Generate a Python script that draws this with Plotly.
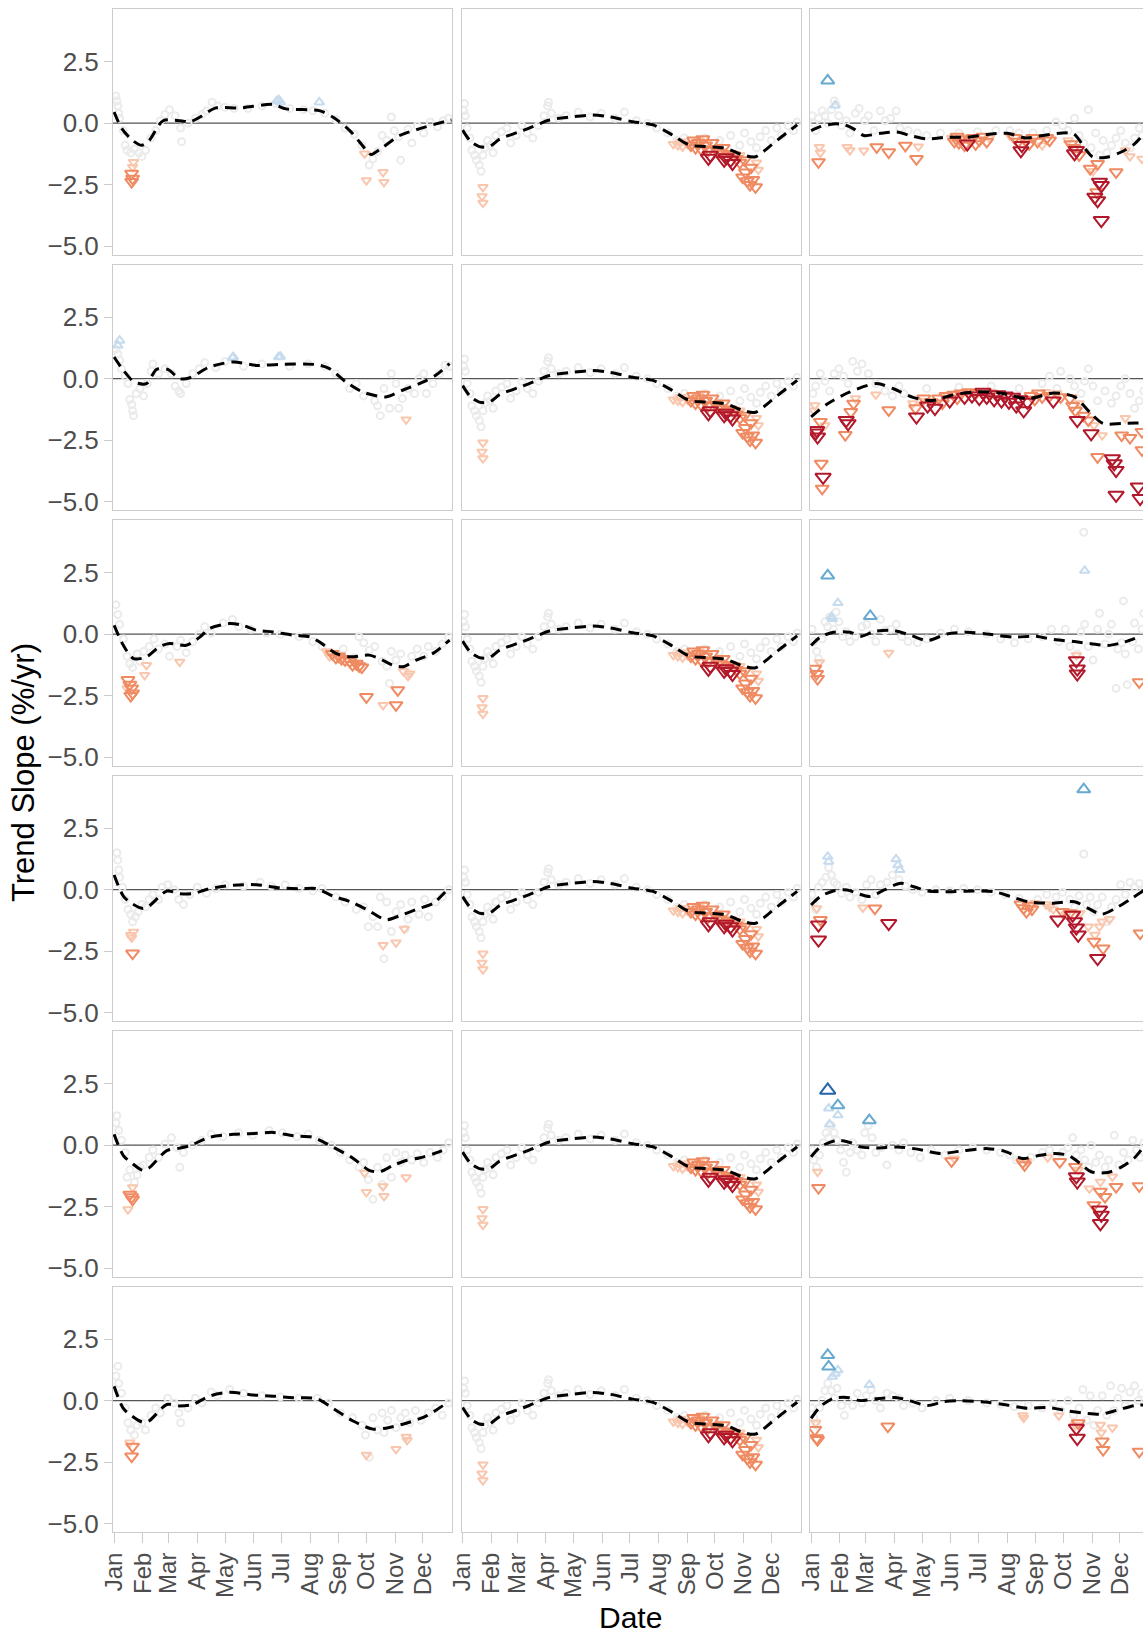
import plotly.graph_objects as go

# ---------------- axis / category data ----------------
MONTHS = ["Jan", "Feb", "Mar", "Apr", "May", "Jun", "Jul", "Aug", "Sep", "Oct", "Nov", "Dec"]
MONTH_START = [0, 31, 59, 90, 120, 151, 181, 212, 243, 273, 304, 334]
Y_TICKS = [-5.0, -2.5, 0.0, 2.5]
Y_TICK_TEXT = ["\u22125.0", "\u22122.5", "0.0", "2.5"]

# Each panel: dashed trend line (day, slope), grey non-significant points (day, slope),
# significant points (day, slope, level 1=weak 2=moderate 3=strong)

# ---- column 1 ----
r1c1_line = [(0,0.45),(8,-0.2),(20,-0.7),(30,-0.9),(38,-0.7),(53,0.1),(75,0.08),(82,0.05),(93,0.25),(110,0.62),(136,0.62),(172,0.76),(186,0.58),(222,0.51),(237,0.24),(255,-0.3),(273,-1.1),(278,-1.27),(291,-0.97),(309,-0.5),(330,-0.23),(359,0.08),(365,0.13)]
r1c1_gray = [(2,1.1),(3,0.9),(4,0.7),(5,0.4),(6,0.2),(10,-0.3),(12,-0.9),(14,-1.1),(18,-1.2),(22,-1.05),(27,-1.2),(30,-1.35),(34,-1.1),(40,-0.6),(45,-0.3),(50,0.1),(55,0.35),(60,0.55),(66,0.3),(72,-0.2),(73,-0.75),(80,0.0),(88,0.2),(95,0.35),(100,0.5),(106,0.85),(112,0.7),(120,0.65),(130,0.6),(145,0.6),(160,0.7),(175,0.8),(190,0.6),(205,0.55),(215,0.5),(228,0.4),(240,0.15),(250,-0.2),(260,-0.45),(268,-0.9),(276,-1.7),(280,-1.45),(285,-1.15),(290,-0.5),(295,-0.7),(300,0.25),(303,-0.3),(308,-0.55),(310,-1.5),(318,-0.25),(322,-0.8),(328,-0.1),(335,-0.4),(342,0.05),(350,-0.15),(356,0.1),(362,0.2)]
r1c1_tri = [(176,0.9,1),(178,0.95,1),(180,0.85,1),(222,0.85,1),(19,-2.05,2),(20,-2.25,2),(19,-2.38,2),(21,-1.58,1),(20,-1.78,1),(271,-1.24,1),(273,-2.32,1),(291,-1.99,1),(292,-2.39,1)]

r2c1_line = [(0,0.88),(10,0.34),(22,-0.14),(35,-0.2),(46,0.38),(58,0.38),(71,0.0),(82,0.04),(103,0.47),(129,0.68),(154,0.54),(179,0.58),(219,0.57),(233,0.41),(251,-0.14),(269,-0.54),(294,-0.74),(312,-0.47),(334,-0.14),(348,0.14),(363,0.61)]
r2c1_gray = [(2,1.2),(4,1.0),(6,0.75),(8,0.4),(12,0.1),(15,-0.2),(17,-0.85),(19,-1.05),(20,-1.3),(21,-1.5),(24,-0.6),(28,-0.4),(32,-0.7),(36,-0.2),(40,0.3),(42,0.6),(48,0.2),(55,0.4),(62,0.2),(66,-0.3),(70,-0.5),(72,-0.6),(78,-0.2),(85,0.2),(92,0.4),(98,0.65),(110,0.45),(120,0.7),(140,0.5),(160,0.6),(190,0.5),(210,0.6),(228,0.5),(240,0.2),(255,-0.4),(262,-0.2),(270,-0.7),(282,-0.9),(285,-1.1),(288,-1.5),(292,-0.4),(298,-1.2),(300,0.2),(305,-0.2),(308,-1.2),(312,-0.8),(318,-0.4),(325,-0.6),(330,0.0),(335,0.2),(338,-0.6),(345,-0.2),(352,0.2),(358,0.55),(363,0.5)]
r2c1_tri = [(6,1.55,1),(4,1.35,1),(129,0.88,1),(128,0.85,1),(178,0.88,1),(180,0.9,1),(316,-1.66,1)]

r3c1_line = [(0,0.36),(10,-0.45),(21,-0.99),(35,-0.92),(49,-0.51),(60,-0.38),(78,-0.45),(93,-0.11),(103,0.23),(125,0.43),(139,0.36),(154,0.16),(172,0.09),(194,-0.04),(212,-0.11),(222,-0.31),(240,-0.78),(255,-0.92),(276,-0.85),(287,-0.99),(302,-1.26),(313,-1.32),(327,-1.05),(345,-0.78),(363,-0.24)]
r3c1_gray = [(2,1.2),(4,0.8),(6,0.4),(10,-0.2),(14,-0.9),(17,-1.2),(20,-1.35),(25,-0.8),(28,-1.1),(32,-0.7),(38,-0.5),(43,-0.2),(48,-0.6),(55,-0.4),(60,-0.9),(68,-0.5),(72,-0.25),(78,-0.75),(85,-0.3),(92,0.0),(98,0.3),(105,0.05),(118,0.45),(128,0.6),(135,0.3),(148,0.2),(165,0.05),(180,0.0),(200,-0.1),(215,-0.3),(225,-0.5),(235,-0.75),(248,-0.6),(260,-0.95),(265,-0.1),(270,-0.35),(276,-0.65),(282,-0.5),(290,-1.1),(295,-1.3),(298,-2.0),(300,-0.7),(305,-1.05),(310,-0.8),(318,-1.6),(322,-0.9),(328,-0.6),(335,-0.9),(340,-0.5),(348,-0.7),(355,-0.4),(362,-0.1)]
r3c1_tri = [(15,-1.86,2),(17,-2.05,2),(19,-2.2,2),(20,-2.4,2),(18,-2.5,2),(236,-0.8,2),(240,-0.95,2),(243,-0.9,2),(246,-1.0,2),(250,-1.05,2),(255,-1.1,2),(258,-1.25,2),(262,-1.2,2),(265,-1.3,2),(268,-1.35,2),(273,-2.55,2),(307,-2.27,2),(305,-2.88,2),(14,-2.2,1),(33,-1.66,1),(35,-1.26,1),(71,-1.12,1),(230,-0.7,1),(233,-0.9,1),(291,-2.88,1),(313,-1.5,1),(318,-1.7,1),(320,-1.6,1)]

r4c1_line = [(0,0.6),(10,-0.26),(19,-0.56),(31,-0.76),(38,-0.66),(57,-0.06),(71,-0.16),(85,-0.16),(103,0.04),(129,0.18),(154,0.2),(179,0.08),(201,0.04),(219,0.04),(237,-0.26),(258,-0.52),(276,-0.86),(294,-1.22),(309,-1.06),(327,-0.8),(345,-0.56),(359,-0.06)]
r4c1_gray = [(3,1.5),(4,1.2),(5,0.8),(6,0.5),(9,0.1),(12,-0.4),(15,-0.8),(18,-1.0),(20,-1.3),(23,-1.1),(26,-0.9),(30,-0.6),(34,-0.7),(38,-0.4),(42,-0.2),(48,-0.4),(52,0.1),(58,0.2),(65,0.0),(70,-0.4),(75,-0.6),(82,-0.2),(90,0.1),(100,-0.15),(110,0.05),(120,0.2),(140,0.15),(158,0.3),(170,0.15),(185,0.2),(200,0.05),(215,-0.05),(225,0.05),(240,-0.3),(250,-0.5),(262,-0.8),(270,-0.7),(275,-1.5),(280,-1.1),(285,-1.5),(288,-0.3),(292,-2.8),(295,-0.5),(300,-1.7),(305,-0.9),(310,-0.6),(315,-1.6),(318,-1.2),(322,-0.5),(330,-1.0),(336,-0.4),(340,-1.1),(348,-0.5),(355,-0.3),(362,0.0)]
r4c1_tri = [(20,-2.59,2),(19,-1.95,1),(21,-1.71,1),(18,-1.85,1),(291,-2.25,1),(305,-2.15,1),(314,-1.59,1)]

r5c1_line = [(0,0.44),(10,-0.42),(19,-0.72),(31,-1.02),(38,-0.92),(57,-0.22),(71,-0.12),(82,-0.02),(103,0.32),(129,0.44),(154,0.48),(172,0.52),(194,0.38),(215,0.32),(237,-0.08),(258,-0.52),(276,-1.02),(287,-1.08),(302,-0.82),(316,-0.62),(330,-0.52),(345,-0.36),(359,-0.16)]
r5c1_gray = [(2,0.9),(3,1.2),(5,0.6),(8,0.2),(12,-0.3),(14,-1.3),(17,-1.0),(22,-1.5),(25,-1.2),(28,-0.9),(32,-0.8),(38,-0.5),(42,-0.2),(48,-0.5),(55,0.05),(62,0.3),(68,-0.1),(71,-0.9),(75,-0.3),(85,0.0),(95,0.2),(105,0.45),(118,0.35),(135,0.5),(150,0.4),(168,0.6),(182,0.5),(198,0.35),(210,0.45),(222,0.2),(235,0.0),(245,-0.3),(255,-0.6),(265,-0.9),(270,-0.7),(275,-1.4),(280,-2.2),(285,-0.9),(290,-1.6),(295,-0.5),(300,-1.3),(305,-0.3),(310,-0.7),(315,-0.4),(322,-0.6),(328,-0.35),(335,-0.7),(342,-0.3),(350,-0.5),(356,-0.2),(362,0.1)]
r5c1_tri = [(17,-2.01,2),(19,-2.11,2),(20,-2.21,2),(15,-2.61,1),(20,-1.71,1),(271,-1.12,1),(273,-1.91,1),(291,-1.67,1),(292,-2.07,1),(316,-1.31,1)]

r6c1_line = [(0,0.58),(10,-0.32),(19,-0.62),(31,-0.88),(38,-0.82),(57,-0.16),(71,-0.22),(85,-0.16),(103,0.18),(125,0.34),(147,0.24),(172,0.18),(194,0.12),(219,0.08),(237,-0.32),(258,-0.82),(280,-1.16),(294,-1.12),(316,-0.92),(338,-0.62),(359,-0.12)]
r6c1_gray = [(2,1.0),(4,1.4),(5,0.7),(8,0.3),(12,-0.3),(15,-0.9),(18,-1.2),(22,-1.4),(25,-1.0),(30,-0.9),(34,-1.2),(40,-0.6),(45,-0.3),(50,-0.5),(58,0.1),(65,-0.1),(70,-0.5),(72,-0.9),(80,-0.3),(88,0.1),(95,-0.1),(105,0.35),(112,0.2),(125,0.45),(140,0.3),(160,0.2),(180,0.15),(200,0.1),(220,0.1),(232,-0.1),(245,-0.5),(258,-0.7),(268,-1.0),(272,-1.4),(276,-2.3),(280,-0.7),(285,-1.2),(290,-0.5),(292,-1.3),(296,-0.8),(300,-0.4),(305,-1.1),(310,-0.7),(315,-0.5),(320,-0.9),(326,-0.4),(332,-0.8),(340,-0.5),(348,-0.3),(355,-0.6),(362,-0.1)]
r6c1_tri = [(20,-1.87,2),(19,-2.27,2),(17,-1.71,1),(273,-2.21,1),(305,-1.97,1),(317,-1.61,1),(316,-1.47,1)]

# ---- column 2 (same in every row) ----
c2_line = [(0,-0.28),(9,-0.75),(18,-0.95),(29,-0.95),(40,-0.65),(62,-0.34),(72,-0.2),(94,0.13),(119,0.26),(141,0.33),(159,0.26),(184,0.06),(206,-0.07),(227,-0.48),(245,-0.88),(263,-0.95),(285,-1.02),(303,-1.29),(317,-1.36),(332,-0.95),(350,-0.41),(362,-0.07)]
c2_gray = [(1,0.5),(2,0.8),(3,0.3),(5,-0.2),(8,-0.6),(10,-1.1),(13,-1.3),(15,-1.5),(18,-1.7),(20,-1.95),(22,-1.3),(24,-1.0),(27,-0.7),(30,-0.9),(33,-1.2),(36,-0.5),(42,-0.35),(48,-0.2),(52,-0.8),(58,-0.5),(64,-0.1),(70,-0.4),(76,-0.6),(82,-0.1),(88,0.3),(92,0.7),(93,0.85),(96,0.4),(104,0.2),(112,0.3),(125,0.45),(138,0.25),(150,0.4),(165,0.2),(175,0.45),(188,0.1),(200,0.0),(210,-0.2),(222,-0.4),(232,-0.7),(240,-0.6),(262,-0.6),(278,-0.7),(290,-0.5),(300,-0.9),(305,-0.4),(312,-0.75),(318,-1.0),(322,-0.55),(328,-0.3),(334,-0.7),(340,-0.2),(345,-0.5),(352,-0.1),(358,-0.3),(362,0.05)]
c2_tri = [(22,-2.6,1),(21,-2.97,1),(22,-3.24,1),(228,-0.85,1),(233,-0.9,1),(238,-0.95,1),(243,-0.85,1),(236,-0.75,1),(256,-0.7,1),(300,-1.3,1),(318,-1.6,1),(320,-1.9,1),
          (247,-0.9,2),(250,-0.7,2),(252,-1.0,2),(255,-0.8,2),(258,-1.05,2),(260,-0.65,2),(263,-0.9,2),(266,-1.1,2),(270,-0.8,2),(274,-1.05,2),(278,-1.2,2),(282,-1.0,2),(285,-1.35,2),(289,-1.25,2),(293,-1.3,2),(296,-1.45,2),(300,-1.6,2),(303,-2.2,2),(306,-2.0,2),(308,-2.35,2),(311,-2.5,2),(314,-2.3,2),(317,-2.6,2),(312,-1.8,2),(305,-1.5,2),
          (266,-1.42,3),(268,-1.3,3),(283,-1.5,3),(285,-1.4,3),(292,-1.63,3),(290,-1.5,3)]

# ---- column 3 ----
r1c3_line = [(0,-0.3),(10,-0.14),(24,-0.03),(35,-0.05),(46,-0.23),(57,-0.5),(75,-0.41),(93,-0.36),(107,-0.5),(125,-0.64),(147,-0.57),(169,-0.57),(190,-0.46),(212,-0.41),(233,-0.6),(251,-0.5),(269,-0.41),(284,-0.43),(298,-1.11),(305,-1.38),(320,-1.38),(335,-1.18),(350,-0.84),(360,-0.43)]
r1c3_gray = [(1,0.3),(3,0.0),(5,-0.3),(8,0.2),(12,0.5),(15,0.3),(18,0.0),(22,0.55),(25,0.9),(27,0.75),(30,0.3),(33,-0.1),(38,0.1),(42,-0.4),(48,0.4),(52,0.6),(58,0.1),(62,0.3),(68,-0.3),(75,0.5),(80,0.1),(86,0.2),(92,0.5),(96,-0.2),(105,-0.3),(115,-0.4),(125,-0.5),(140,-0.4),(160,-0.4),(180,-0.35),(200,-0.3),(215,-0.3),(225,-0.4),(240,-0.4),(255,-0.3),(265,0.05),(272,-0.1),(278,-0.3),(285,0.2),(290,-0.5),(295,-0.8),(300,0.55),(303,-1.0),(308,-0.4),(312,-1.3),(316,-0.7),(320,-1.2),(325,-0.9),(330,-0.6),(335,-0.3),(340,-0.8),(345,-1.0),(350,-0.6),(355,-0.2),(358,-0.5)]
r1c3_tri = [(18,1.73,2),(26,0.72,1),(8,-1.58,2),(9,-0.97,1),(10,-1.2,1),(39,-0.97,1),(42,-1.1,1),(57,-1.11,1),(71,-0.97,2),(84,-1.18,2),(102,-0.91,2),(114,-1.45,2),(116,-0.95,1),
            (152,-0.6,1),(155,-0.75,2),(158,-0.55,2),(160,-0.8,2),(163,-0.65,2),(166,-0.9,2),(169,-0.84,3),(172,-0.7,2),(175,-0.6,2),(178,-0.85,2),(182,-0.7,2),(186,-0.55,2),(190,-0.75,2),(193,-0.6,1),
            (215,-0.5,1),(220,-0.6,2),(224,-0.75,2),(227,-1.11,3),(228,-0.9,3),(232,-0.7,2),(236,-0.85,2),(240,-0.6,2),(245,-0.75,2),(250,-0.9,1),(255,-0.6,2),(258,-0.7,2),
            (278,-0.7,1),(281,-0.85,2),(284,-1.0,2),(285,-1.24,3),(287,-1.1,3),(290,-1.3,2),
            (302,-1.85,2),(305,-1.95,1),(310,-1.65,2),(330,-1.99,2),(312,-2.39,3),(314,-2.53,3),(307,-3.0,3),(310,-3.14,3),(314,-3.95,3),(309,-2.8,2),(358,-1.45,1),(340,-1.1,1),(345,-1.35,1)]

r2c3_line = [(0,-1.55),(17,-1.04),(42,-0.54),(71,-0.2),(89,-0.41),(111,-0.77),(133,-0.88),(151,-0.68),(176,-0.54),(205,-0.58),(234,-0.81),(263,-0.58),(285,-0.74),(303,-1.42),(316,-1.82),(336,-1.82),(351,-1.8),(362,-1.78)]
r2c3_gray = [(2,-0.6),(5,-0.3),(10,0.2),(15,-0.1),(20,-0.5),(25,0.2),(30,0.4),(35,0.1),(40,-0.2),(45,0.7),(50,0.3),(55,0.6),(62,0.2),(70,-0.2),(80,-0.5),(88,-0.7),(95,-0.3),(100,-0.6),(125,-0.4),(160,-0.35),(195,-0.3),(225,-0.4),(250,-0.2),(258,0.1),(266,-0.4),(270,0.3),(280,0.0),(285,-0.3),(292,-0.6),(296,-0.1),(300,0.4),(305,-0.3),(310,-0.9),(318,-0.5),(325,-1.0),(330,-0.7),(335,-0.3),(340,0.0),(345,-0.6),(350,-1.2),(355,-0.9),(360,-0.5)]
r2c3_tri = [(4,-1.08,1),(3,-1.3,1),(6,-2.1,3),(7,-2.36,3),(5,-2.2,3),(11,-3.45,2),(13,-4.0,3),(12,-4.46,2),(10,-1.75,2),(15,-1.9,1),
            (38,-1.69,3),(40,-1.82,3),(46,-1.01,2),(43,-1.35,2),(37,-2.28,2),(48,-0.8,1),
            (70,-0.65,1),(84,-1.28,2),(110,-1.0,1),(114,-1.55,3),(113,-1.2,2),(118,-0.9,1),
            (122,-0.8,2),(126,-1.1,3),(130,-0.95,2),(134,-1.2,3),(138,-0.8,2),(142,-1.0,2),(146,-0.7,2),(150,-0.9,3),(154,-0.65,2),(158,-0.8,2),(162,-0.6,2),(166,-0.75,3),(170,-0.55,2),(174,-0.7,3),(178,-0.6,2),(182,-0.8,3),(186,-0.55,3),(190,-0.75,3),(194,-0.6,2),(198,-0.85,3),(202,-0.65,3),(206,-0.9,3),(210,-0.7,3),(214,-0.95,3),(218,-0.75,3),(222,-1.1,3),(226,-0.85,3),(230,-1.3,3),(234,-0.95,3),(238,-0.7,2),(242,-0.85,2),(246,-0.6,2),(250,-0.75,2),(254,-0.55,1),(258,-0.7,2),(262,-0.9,3),(266,-0.6,1),(270,-0.75,2),
            (280,-0.8,2),(283,-1.1,2),(286,-1.3,2),(288,-1.69,3),(290,-1.0,1),(295,-1.5,2),(300,-1.69,2),(303,-2.23,3),(306,-1.9,1),(310,-3.18,2),(315,-2.3,1),(326,-3.25,3),(330,-3.72,3),(328,-3.45,3),(330,-4.73,3),(336,-2.3,2),(345,-2.4,2),(354,-4.39,3),(356,-4.86,3),(358,-2.9,2),(358,-2.16,2),(340,-1.6,1)]

r3c3_line = [(0,-0.46),(10,-0.12),(24,0.08),(42,0.08),(55,-0.08),(68,0.11),(89,0.15),(108,-0.05),(126,-0.26),(147,0.01),(169,0.08),(190,0.01),(220,-0.12),(242,-0.08),(263,-0.22),(285,-0.3),(303,-0.39),(321,-0.46),(339,-0.32),(357,-0.08)]
r3c3_gray = [(1,0.2),(3,-0.3),(6,-0.7),(8,-1.0),(12,-0.2),(15,0.5),(18,0.3),(20,0.7),(24,0.2),(27,0.9),(30,0.5),(34,-0.1),(38,0.1),(42,-0.3),(48,-0.1),(55,0.3),(60,0.4),(65,0.0),(70,-0.3),(75,0.6),(80,0.15),(86,0.2),(92,0.4),(98,-0.1),(105,-0.3),(115,-0.35),(125,-0.2),(140,0.05),(155,0.2),(170,0.1),(190,0.0),(205,-0.2),(220,-0.35),(235,-0.2),(250,-0.1),(260,0.2),(268,-0.3),(275,0.2),(280,-0.5),(288,-0.8),(292,0.1),(295,4.14),(296,0.4),(300,-0.5),(305,-1.05),(310,0.2),(312,0.85),(318,-0.4),(322,0.0),(325,0.4),(330,-2.2),(332,-0.6),(336,-0.35),(338,1.35),(340,-0.8),(342,-2.05),(348,-0.3),(350,0.45),(354,-0.6),(358,0.2),(360,0.85)]
r3c3_tri = [(18,2.38,2),(64,0.73,2),(29,1.27,1),(23,0.62,1),(22,0.7,1),(296,2.58,1),(4,-1.4,2),(6,-1.61,2),(7,-1.81,2),(9,-1.14,1),(84,-0.76,1),(287,-0.86,1),(287,-1.07,3),(288,-1.41,3),(288,-1.61,3),(355,-1.95,2)]

r4c3_line = [(0,-0.62),(10,-0.28),(24,-0.05),(39,-0.01),(50,-0.15),(64,-0.28),(79,-0.01),(97,0.26),(111,0.12),(126,-0.05),(147,-0.08),(176,-0.05),(198,-0.08),(216,-0.28),(235,-0.49),(260,-0.55),(285,-0.49),(300,-0.76),(314,-1.0),(329,-0.76),(347,-0.35),(361,-0.01)]
r4c3_gray = [(1,-0.2),(3,-0.5),(5,-0.8),(8,0.1),(12,0.3),(16,0.5),(19,0.9),(22,0.6),(25,0.3),(28,0.2),(33,-0.15),(38,0.1),(42,-0.3),(48,-0.1),(55,-0.4),(60,0.2),(65,0.4),(70,-0.2),(75,0.2),(82,0.3),(88,0.6),(95,0.4),(102,0.15),(110,0.0),(120,-0.1),(135,0.0),(150,-0.05),(165,0.05),(180,0.0),(195,-0.1),(210,-0.2),(225,-0.35),(245,-0.4),(255,-0.2),(265,-0.3),(272,-0.1),(280,-0.4),(285,-0.7),(290,-0.25),(295,1.45),(298,-0.6),(302,-0.3),(306,-0.9),(310,-0.6),(315,-0.3),(320,-1.3),(325,-0.7),(330,-0.4),(335,0.2),(340,-0.2),(345,0.3),(350,0.1),(355,0.25),(360,0.0)]
r4c3_tri = [(295,4.07,2),(18,1.34,1),(19,1.14,1),(92,1.24,1),(94,1.0,1),(96,0.8,1),
            (8,-1.43,3),(8,-2.04,3),(10,-1.23,2),(6,-0.76,1),(56,-0.73,1),(69,-0.76,2),(84,-1.37,3),
            (227,-0.6,2),(230,-0.75,2),(233,-0.9,2),(236,-0.65,2),(239,-0.8,2),(242,-0.55,1),
            (254,-0.6,1),(258,-0.7,1),(262,-0.8,1),(267,-1.23,3),(272,-0.9,2),(276,-1.0,1),(280,-0.95,2),(283,-1.03,3),(285,-1.3,3),(287,-1.55,3),(289,-1.84,3),(291,-0.95,1),
            (307,-1.84,1),(312,-1.5,1),(315,-1.3,1),(323,-1.2,1),(306,-2.11,2),(316,-2.38,2),(310,-2.79,3),(356,-1.77,2),(300,-1.5,1)]

r5c3_line = [(0,-0.47),(10,-0.07),(28,0.2),(42,0.11),(53,-0.07),(71,-0.11),(93,-0.07),(115,-0.16),(140,-0.34),(162,-0.24),(191,-0.14),(209,-0.24),(229,-0.54),(245,-0.43),(263,-0.34),(278,-0.41),(289,-0.68),(303,-1.08),(321,-1.11),(336,-0.88),(350,-0.51),(357,-0.2)]
r5c3_gray = [(1,-0.2),(3,-0.6),(6,-0.9),(9,-0.4),(13,0.1),(16,0.5),(19,0.3),(22,0.8),(25,0.5),(28,0.2),(32,-0.2),(35,-0.7),(38,-1.1),(42,-0.3),(45,0.1),(50,-0.2),(55,-0.4),(58,0.5),(62,0.8),(66,0.3),(70,-0.3),(76,-0.1),(82,-0.8),(88,0.0),(95,-0.2),(100,0.1),(108,-0.3),(118,-0.5),(130,-0.2),(145,-0.4),(160,-0.2),(175,-0.1),(190,-0.2),(205,-0.3),(215,-0.4),(222,-0.6),(238,-0.5),(250,-0.3),(258,-0.2),(265,-0.5),(272,-0.3),(278,-0.1),(283,0.3),(287,-0.4),(292,-0.2),(296,-0.6),(300,-0.9),(303,0.0),(308,-0.7),(312,-0.4),(318,-0.9),(322,-0.6),(328,0.4),(333,-0.8),(338,-0.3),(343,-0.6),(348,0.2),(352,-0.2),(356,-0.5),(360,0.1)]
r5c3_tri = [(18,2.23,3),(29,1.62,2),(63,1.01,2),(19,1.49,1),(20,0.85,1),(29,1.22,1),(8,-1.73,2),(7,-1.08,1),(152,-0.65,2),(155,-0.55,1),(229,-0.7,2),(231,-0.81,2),(233,-0.65,1),(256,-0.5,1),(269,-0.68,2),(287,-1.28,3),(288,-1.49,3),(286,-0.88,2),(289,-1.0,1),(301,-1.76,1),(306,-2.43,2),(313,-1.89,2),(318,-2.1,2),(330,-1.69,2),(313,-1.49,1),(326,-1.28,1),(312,-2.63,3),(314,-2.84,3),(313,-3.18,3),(355,-1.66,2)]

r6c3_line = [(0,-0.72),(10,-0.24),(24,0.09),(41,0.12),(53,0.0),(71,0.07),(93,0.12),(107,-0.01),(126,-0.2),(144,-0.04),(162,-0.01),(191,-0.07),(212,-0.18),(234,-0.31),(256,-0.28),(278,-0.42),(296,-0.51),(314,-0.55),(332,-0.38),(350,-0.2),(361,-0.18)]
r6c3_gray = [(1,-0.3),(3,-0.7),(6,-1.0),(9,-0.3),(12,0.0),(15,0.4),(18,0.7),(22,0.4),(25,0.1),(28,0.5),(33,-0.2),(36,-0.6),(40,0.0),(45,-0.2),(50,0.3),(55,-0.1),(60,0.2),(65,0.45),(70,0.0),(75,-0.3),(82,0.3),(88,0.2),(95,0.1),(100,-0.2),(110,-0.1),(120,-0.3),(135,0.0),(150,0.1),(170,0.0),(190,-0.1),(205,-0.15),(220,-0.25),(235,-0.2),(250,-0.3),(262,-0.1),(270,-0.4),(278,0.0),(284,-0.6),(290,-0.3),(294,0.45),(298,-0.8),(302,0.2),(306,-1.0),(310,-0.4),(315,0.2),(320,-0.6),(324,0.6),(328,-0.4),(332,0.1),(336,0.5),(340,-0.2),(345,0.35),(350,0.6),(354,0.0),(358,0.3)]
r6c3_tri = [(18,1.85,2),(19,1.38,2),(23,0.97,1),(29,1.24,1),(26,1.1,1),(63,0.64,1),(6,-1.53,2),(7,-1.6,2),(4,-1.19,2),(5,-0.9,1),(83,-1.05,2),(229,-0.6,1),(230,-0.7,1),(268,-0.61,1),(287,-1.12,3),(288,-1.53,3),(289,-0.92,2),(286,-1.0,1),(313,-0.99,1),(314,-1.3,1),(326,-1.1,1),(315,-1.66,2),(316,-2.0,2),(355,-2.07,2)]

PANELS = [
    [(r1c1_line, r1c1_gray, r1c1_tri), (c2_line, c2_gray, c2_tri), (r1c3_line, r1c3_gray, r1c3_tri)],
    [(r2c1_line, r2c1_gray, r2c1_tri), (c2_line, c2_gray, c2_tri), (r2c3_line, r2c3_gray, r2c3_tri)],
    [(r3c1_line, r3c1_gray, r3c1_tri), (c2_line, c2_gray, c2_tri), (r3c3_line, r3c3_gray, r3c3_tri)],
    [(r4c1_line, r4c1_gray, r4c1_tri), (c2_line, c2_gray, c2_tri), (r4c3_line, r4c3_gray, r4c3_tri)],
    [(r5c1_line, r5c1_gray, r5c1_tri), (c2_line, c2_gray, c2_tri), (r5c3_line, r5c3_gray, r5c3_tri)],
    [(r6c1_line, r6c1_gray, r6c1_tri), (c2_line, c2_gray, c2_tri), (r6c3_line, r6c3_gray, r6c3_tri)],
]

# ---------------- styling ----------------
FONT = "Liberation Sans, Arial, Helvetica, sans-serif"
DOWN_COLORS = {1: "#f9c6ae", 2: "#ef8a62", 3: "#b2182b"}
UP_COLORS = {1: "#c6dcee", 2: "#67a9cf", 3: "#2166ac"}
SIZES = {1: 8.5, 2: 11.5, 3: 13.5}
GRAY = "#ebebeb"
BORDER = "#cccccc"

W, H = 1143, 1637
ML, MR, MT, MB = 113, 0, 9, 105
PW = W - ML - MR
PH = H - MT - MB
COL_PX = [(113, 452), (461.5, 800.5), (810, 1143)]
ROW_TOP0, ROW_PITCH, ROW_H = 9.4, 255.5, 245.3
PX_PER_DAY = 339.0 / 366.8
X0 = -1.2

fig = go.Figure()
layout = {}
shapes = []

for r in range(6):
    top = ROW_TOP0 + r * ROW_PITCH
    bot = top + ROW_H
    ydom = [max(0.0, (MT + PH - bot) / PH), min(1.0, (MT + PH - top) / PH)]
    for c in range(3):
        k = r * 3 + c + 1
        xa = "x" if k == 1 else f"x{k}"
        ya = "y" if k == 1 else f"y{k}"
        a, b = COL_PX[c]
        xdom = [(a - ML) / PW, min(1.0, (b - ML) / PW)]
        x1 = X0 + (b - a) / PX_PER_DAY
        bottom_row = (r == 5)
        layout["xaxis" if k == 1 else f"xaxis{k}"] = dict(
            domain=xdom, anchor=ya, range=[X0, x1],
            showgrid=False, zeroline=False,
            showline=True, mirror=True, linecolor=BORDER, linewidth=1,
            tickmode="array", tickvals=MONTH_START, ticktext=MONTHS,
            ticks="outside" if bottom_row else "", ticklen=10, tickcolor=BORDER, tickwidth=1,
            showticklabels=bottom_row, tickangle=-90,
            tickfont=dict(family=FONT, size=24, color="#4d4d4d"),
        )
        layout["yaxis" if k == 1 else f"yaxis{k}"] = dict(
            domain=ydom, anchor=xa, range=[-5.34, 4.62],
            showgrid=False, zeroline=False,
            showline=True, mirror=(c != 2), linecolor=BORDER, linewidth=1,
            tickmode="array", tickvals=Y_TICKS, ticktext=Y_TICK_TEXT,
            ticks="outside" if c == 0 else "", ticklen=8, tickcolor=BORDER, tickwidth=1,
            showticklabels=(c == 0),
            tickfont=dict(family=FONT, size=26, color="#4d4d4d"),
        )
        shapes.append(dict(type="line", xref=f"{xa} domain", yref=ya, x0=0, x1=1, y0=0, y1=0,
                           line=dict(color="#555555", width=1.2), layer="below"))

        line, gray, tri = PANELS[r][c]
        fig.add_trace(go.Scatter(
            x=[p[0] for p in gray], y=[p[1] for p in gray], mode="markers",
            marker=dict(symbol="circle-open", size=7, color=GRAY, line=dict(width=2)),
            xaxis=xa, yaxis=ya, showlegend=False, hoverinfo="skip"))
        for lvl in (1, 2, 3):
            for up in (False, True):
                pts = [p for p in tri if p[2] == lvl and ((p[1] > 0) == up)]
                if not pts:
                    continue
                fig.add_trace(go.Scatter(
                    x=[p[0] for p in pts], y=[p[1] for p in pts], mode="markers",
                    marker=dict(symbol="triangle-up-open" if up else "triangle-down-open",
                                size=SIZES[lvl],
                                color=(UP_COLORS if up else DOWN_COLORS)[lvl],
                                line=dict(width=2)),
                    xaxis=xa, yaxis=ya, showlegend=False, hoverinfo="skip"))
        fig.add_trace(go.Scatter(
            x=[p[0] for p in line], y=[p[1] for p in line], mode="lines",
            line=dict(color="black", width=3, dash="11px,7px", shape="spline", smoothing=0.8),
            xaxis=xa, yaxis=ya, showlegend=False, hoverinfo="skip"))

annotations = [
    dict(text="Trend Slope (%/yr)", xref="paper", yref="paper",
         x=(23 - ML) / PW, y=(MT + PH - 773) / PH, textangle=-90,
         xanchor="center", yanchor="middle", showarrow=False,
         font=dict(family=FONT, size=31, color="black")),
    dict(text="Date", xref="paper", yref="paper",
         x=(630 - ML) / PW, y=(MT + PH - 1617) / PH,
         xanchor="center", yanchor="middle", showarrow=False,
         font=dict(family=FONT, size=30, color="black")),
]

fig.update_layout(
    width=W, height=H,
    margin=dict(l=ML, r=MR, t=MT, b=MB, pad=0),
    paper_bgcolor="white", plot_bgcolor="white",
    showlegend=False, shapes=shapes, annotations=annotations,
    font=dict(family=FONT),
    **layout,
)

fig.write_html(
    "out.html",
    config={"displayModeBar": False},
    post_script="document.body.style.margin='0px';document.body.style.overflow='hidden';",
)
